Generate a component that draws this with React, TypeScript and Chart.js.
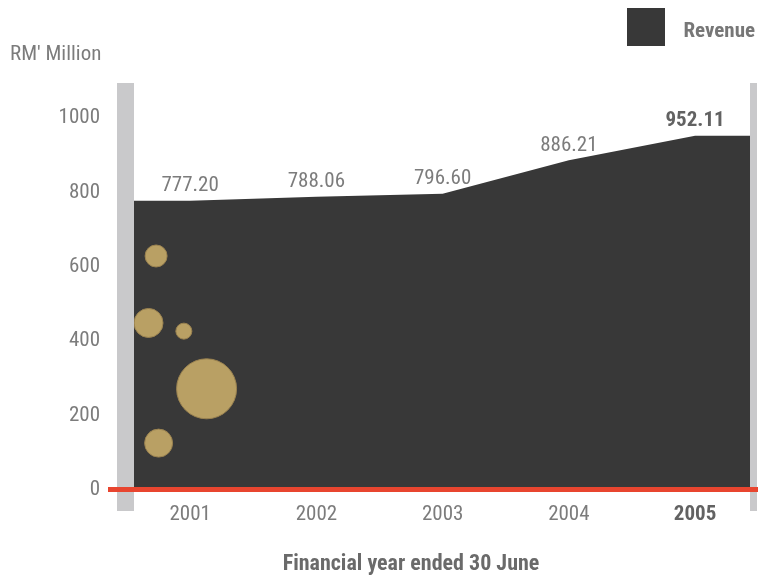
import React, { useEffect, useRef } from "react";
import { Chart, registerables } from "chart.js";

Chart.register(...registerables);

const years = [2001, 2002, 2003, 2004, 2005];
const revenue = [777.2, 788.06, 796.6, 886.21, 952.11];
const revenueLabels = ["777.20", "788.06", "796.60", "886.21", "952.11"];
const yTicks = [0, 200, 400, 600, 800, 1000];
// decorative gold bubbles (x in year units, y in RM' Million, r in px)
const bubbleX = [2000.73, 2000.67, 2000.95, 2001.13, 2000.75];
const bubbleY = [629, 449, 427, 272, 126];
const bubbleR = [11, 14.5, 8, 30, 14];

const FONT = '"Roboto Condensed", "DejaVu Sans Condensed", sans-serif';
const AREA = "#383838";
const GRAY_TEXT = "#7c7c7c";
const DARK_TEXT = "#626262";

const decorPlugin = {
  id: "decor",
  beforeDatasetsDraw(chart: any) {
    const { ctx, chartArea, scales } = chart;
    const y0 = scales.y.getPixelForValue(0);
    ctx.save();
    // gray side bars
    ctx.fillStyle = "#c9c9cb";
    ctx.fillRect(chartArea.left - 17, chartArea.top, 17, y0 - chartArea.top + 21);
    ctx.fillRect(chartArea.right, chartArea.top, 7, y0 - chartArea.top + 21);
    // revenue area, extended flat to the plot edges
    const meta = chart.getDatasetMeta(1);
    const pts = meta.data;
    if (pts.length) {
      ctx.fillStyle = AREA;
      ctx.beginPath();
      ctx.moveTo(chartArea.left, y0);
      ctx.lineTo(chartArea.left, pts[0].y);
      pts.forEach((p: any) => ctx.lineTo(p.x, p.y));
      ctx.lineTo(chartArea.right, pts[pts.length - 1].y);
      ctx.lineTo(chartArea.right, y0);
      ctx.closePath();
      ctx.fill();
    }
    ctx.restore();
  },
  afterDatasetsDraw(chart: any) {
    const { ctx, chartArea, scales, width } = chart;
    const y0 = scales.y.getPixelForValue(0);
    ctx.save();
    // red baseline
    ctx.fillStyle = "#e8452f";
    ctx.fillRect(chartArea.left - 26, y0 - 3, width - (chartArea.left - 26), 5);
    // value labels
    const meta = chart.getDatasetMeta(1);
    meta.data.forEach((pt: any, i: number) => {
      const last = i === meta.data.length - 1;
      ctx.font = `${last ? "bold " : ""}21px ${FONT}`;
      ctx.fillStyle = last ? DARK_TEXT : GRAY_TEXT;
      ctx.textAlign = "center";
      ctx.textBaseline = "middle";
      ctx.fillText(revenueLabels[i], pt.x, pt.y - 15);
    });
    // unit label
    ctx.font = `21px ${FONT}`;
    ctx.fillStyle = GRAY_TEXT;
    ctx.textAlign = "left";
    ctx.textBaseline = "middle";
    ctx.fillText("RM' Million", 10, 55);
    // legend
    ctx.fillStyle = AREA;
    ctx.fillRect(627, 8, 38, 38);
    ctx.font = `bold 21px ${FONT}`;
    ctx.fillStyle = "#777777";
    ctx.textAlign = "right";
    ctx.fillText("Revenue", 755, 32);
    // x axis title
    ctx.font = `bold 22px ${FONT}`;
    ctx.fillStyle = "#6a6a6a";
    ctx.textAlign = "center";
    ctx.fillText("Financial year ended 30 June", 411, 564);
    ctx.restore();
  },
};

export default function App() {
  const ref = useRef<HTMLCanvasElement>(null);
  useEffect(() => {
    document.body.style.margin = "0";
    const canvas = ref.current;
    if (!canvas) return;
    const chart = new Chart(canvas, {
      type: "line",
      data: {
        datasets: [
          {
            type: "bubble",
            label: "bubbles",
            data: bubbleX.map((x, i) => ({ x, y: bubbleY[i], r: bubbleR[i] })),
            backgroundColor: "#b9a064",
            borderColor: "#9a8250",
            borderWidth: 1,
          } as any,
          {
            type: "line",
            label: "Revenue",
            data: years.map((x, i) => ({ x, y: revenue[i] })),
            backgroundColor: AREA,
            borderColor: AREA,
            borderWidth: 0,
            pointRadius: 0,
            fill: false,
            tension: 0,
          },
        ],
      },
      options: {
        animation: false,
        responsive: false,
        layout: { autoPadding: false, padding: { top: 83, right: 8, left: 0, bottom: 0 } },
        plugins: { legend: { display: false }, tooltip: { enabled: false } },
        scales: {
          x: {
            type: "linear",
            min: 2000.555,
            max: 2005.435,
            grid: { display: false, drawTicks: false },
            border: { display: false },
            afterBuildTicks: (s: any) => {
              s.ticks = years.map((v) => ({ value: v }));
            },
            afterFit: (s: any) => {
              s.height = 91;
              s.paddingLeft = 0;
              s.paddingRight = 0;
            },
            ticks: {
              padding: 12,
              autoSkip: false,
              maxRotation: 0,
              callback: (v: any) => String(v),
              font: (c: any) => ({
                family: FONT,
                size: 21,
                weight: c.tick && c.tick.value === 2005 ? "bold" : "normal",
              }),
              color: (c: any) => (c.tick && c.tick.value === 2005 ? DARK_TEXT : GRAY_TEXT),
            },
          },
          y: {
            type: "linear",
            min: 0,
            max: 1094,
            grid: { display: false, drawTicks: false },
            border: { display: false },
            afterBuildTicks: (s: any) => {
              s.ticks = yTicks.map((v) => ({ value: v }));
            },
            afterFit: (s: any) => {
              s.width = 134;
              s.paddingTop = 0;
              s.paddingBottom = 0;
            },
            ticks: {
              padding: 34,
              callback: (v: any) => String(v),
              font: { family: FONT, size: 21 },
              color: GRAY_TEXT,
            },
          },
        },
      },
      plugins: [decorPlugin],
    });
    return () => chart.destroy();
  }, []);
  return (
    <div style={{ width: 758, height: 581 }}>
      <canvas ref={ref} width={758} height={581} style={{ display: "block" }} />
    </div>
  );
}
